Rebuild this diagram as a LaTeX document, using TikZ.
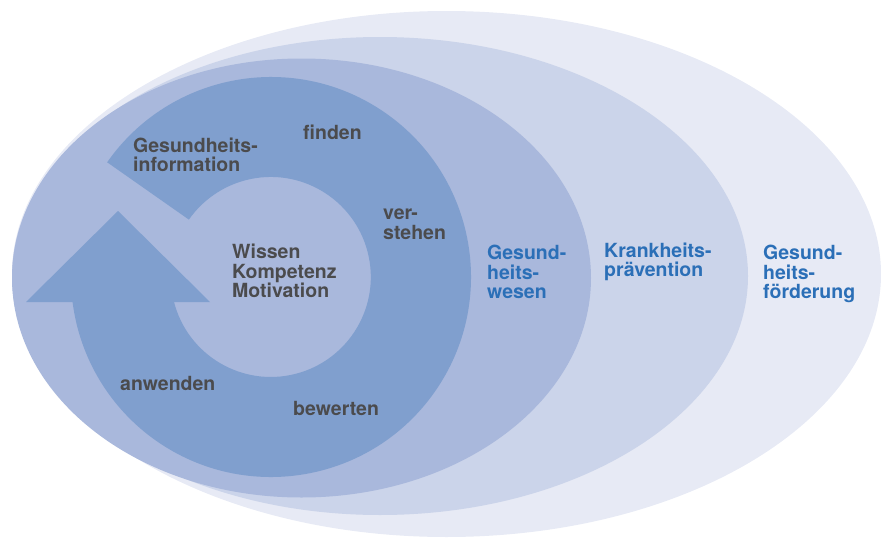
\documentclass[tikz,border=0pt]{standalone}
\usepackage{fontspec}
\setmainfont{TeX Gyre Heros}
\definecolor{foerderfill}{HTML}{E7EAF5}
\definecolor{praeventfill}{HTML}{CBD4EA}
\definecolor{wesenfill}{HTML}{A9B8DC}
\definecolor{ringfill}{HTML}{809FCE}
\definecolor{labelgrey}{HTML}{4B4B4D}
\definecolor{labelblue}{HTML}{2B6FB7}
\begin{document}
\begin{tikzpicture}[x=1pt, y=1pt,
    cycle node/.style={anchor=west, inner sep=0pt, align=left, text=labelgrey},
    field node/.style={anchor=west, inner sep=0pt, align=left, text=labelblue}]
            \tikzstyle{every node}=[font=\fontsize{19.5}{19.5}\selectfont\bfseries]
            \useasboundingbox (0,0) rectangle (881,-538);

            % nested fields
            \fill[foerderfill] (446.5,-274) ellipse [x radius=434.5, y radius=263];
            \fill[praeventfill] (380,-276) ellipse [x radius=368, y radius=239];
            \fill[wesenfill] (301.5,-278) ellipse [x radius=289.5, y radius=219.5];

            % ring with arrow head
            \fill[ringfill] (271,-277) ++(145:200)
                arc [start angle=145, end angle=-172.8, radius=200]
                -- (26,-302) -- (118,-211) -- (210,-302) -- (174,-302)
                arc [start angle=-165.5, end angle=145, radius=100] -- cycle;

              \node[cycle node] (info) at (133,-155) {Gesundheits-\\information};
              \node[cycle node] (finden) at (303,-132) {finden};
              \node[cycle node] (verstehen) at (383,-224) {ver-\\stehen};
              \node[cycle node] (wissen) at (232,-271) {Wissen\\Kompetenz\\Motivation};
              \node[cycle node] (anwenden) at (120,-383) {anwenden};
              \node[cycle node] (bewerten) at (293,-408) {bewerten};

              \node[field node] (wesen) at (487,-272) {Gesund-\\heits-\\wesen};
              \node[field node] (praevention) at (604,-262) {Krankheits-\\prävention};
              \node[field node] (foerderung) at (763,-274) {Gesund-\\heits-\\förderung};

            \end{tikzpicture}
\end{document}
